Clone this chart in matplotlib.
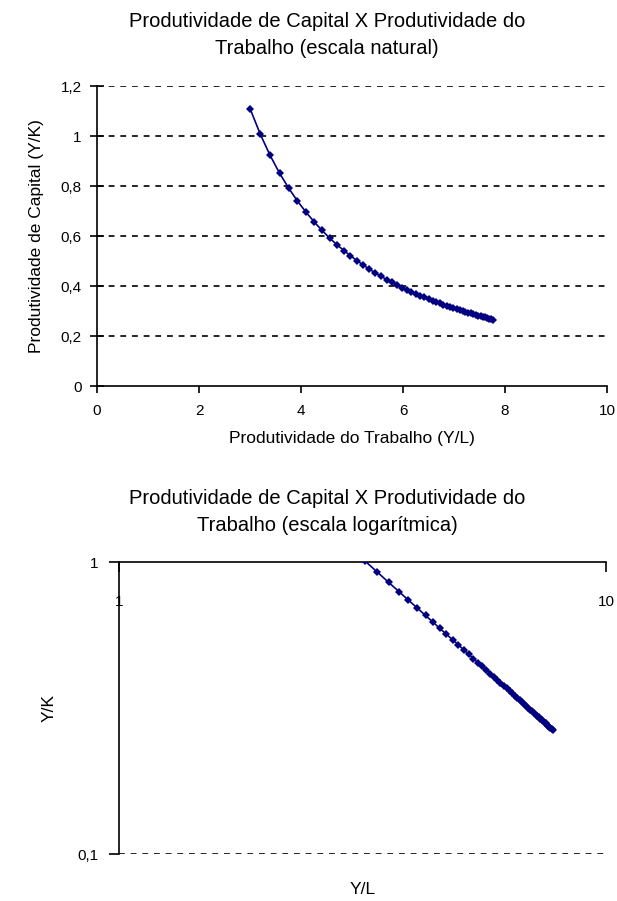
import matplotlib
matplotlib.use("Agg")
import matplotlib.pyplot as plt
from matplotlib.ticker import FixedLocator, FixedFormatter, NullLocator

plt.rcParams['font.family'] = ['Liberation Sans', 'DejaVu Sans']

# Data
y_por_l = [3.00, 3.20, 3.39, 3.58, 3.76, 3.93, 4.10, 4.26, 4.41, 4.56, 4.70, 4.84,
           4.97, 5.10, 5.22, 5.34, 5.46, 5.57, 5.68, 5.78, 5.88, 5.98, 6.07, 6.16,
           6.25, 6.34, 6.42, 6.50, 6.58, 6.65, 6.72, 6.79, 6.86, 6.93, 6.99, 7.05,
           7.11, 7.17, 7.22, 7.28, 7.33, 7.38, 7.43, 7.48, 7.52, 7.57, 7.61, 7.65,
           7.69, 7.73, 7.77]
y_por_k = [1.110, 1.008, 0.924, 0.851, 0.791, 0.740, 0.695, 0.656, 0.623, 0.592,
           0.566, 0.542, 0.521, 0.501, 0.484, 0.467, 0.452, 0.439, 0.426, 0.415,
           0.404, 0.394, 0.386, 0.377, 0.369, 0.361, 0.355, 0.348, 0.342, 0.336,
           0.331, 0.326, 0.321, 0.316, 0.312, 0.308, 0.304, 0.300, 0.297, 0.294,
           0.291, 0.288, 0.285, 0.282, 0.280, 0.277, 0.275, 0.273, 0.270, 0.268,
           0.266]

top_yticks = [0, 0.2, 0.4, 0.6, 0.8, 1.0, 1.2]
top_ylabels = ["0", "0,2", "0,4", "0,6", "0,8", "1", "1,2"]
top_xticks = [0, 2, 4, 6, 8, 10]
top_xlabels = ["0", "2", "4", "6", "8", "10"]

log_yticks = [0.1, 1]
log_ylabels = ["0,1", "1"]
log_xticks = [1, 10]
log_xlabels = ["1", "10"]

titulo1 = "Produtividade de Capital X Produtividade do\nTrabalho (escala natural)"
titulo2 = "Produtividade de Capital X Produtividade do\nTrabalho (escala logarítmica)"

W, H = 617, 901
fig = plt.figure(figsize=(W / 100, H / 100), dpi=100)
navy = "#000080"
fs = 11
fs_lab = 12.5
fs_title = 14.5

def rect(x0, x1, ytop, ybot):
    return [x0 / W, 1 - ybot / H, (x1 - x0) / W, (ybot - ytop) / H]

# ---- Top chart (natural scale)
ax1 = fig.add_axes(rect(97, 607, 86, 386))
ax1.plot(y_por_l, y_por_k, color=navy, lw=1.2, marker="D", ms=4.5,
         markeredgewidth=0, zorder=3)
ax1.set_xlim(0, 10)
ax1.set_ylim(0, 1.2)
for v in top_yticks[1:]:
    ax1.axhline(v, color="black", lw=1.2, ls=(0, (3.5, 3.5)), zorder=1)
ax1.yaxis.set_major_locator(FixedLocator(top_yticks))
ax1.yaxis.set_major_formatter(FixedFormatter(top_ylabels))
ax1.xaxis.set_major_locator(FixedLocator(top_xticks))
ax1.xaxis.set_major_formatter(FixedFormatter(top_xlabels))
ax1.tick_params(axis="y", direction="inout", length=10, width=1.2, labelsize=fs, pad=6)
ax1.tick_params(axis="x", direction="out", length=5, width=1.2, labelsize=fs, pad=8)
for s in ["top", "right"]:
    ax1.spines[s].set_visible(False)
for s in ["left", "bottom"]:
    ax1.spines[s].set_linewidth(1.2)
ax1.set_xlabel("Produtividade do Trabalho (Y/L)", fontsize=fs_lab, labelpad=9)
ax1.set_ylabel("Produtividade de Capital (Y/K)", fontsize=fs_lab, labelpad=12)
fig.text(327 / W, 1 - 35 / H, titulo1, ha="center", va="center", fontsize=fs_title,
         linespacing=1.55)

# ---- Bottom chart (log scale)
ax2 = fig.add_axes(rect(119, 606, 562, 854))
ax2.set_xscale("log")
ax2.set_yscale("log")
ax2.plot(y_por_l, y_por_k, color=navy, lw=1.2, marker="D", ms=4.5,
         markeredgewidth=0, zorder=3, clip_on=True)
ax2.set_xlim(1, 10)
ax2.set_ylim(0.1, 1)
ax2.axhline(0.1, color="black", lw=1.2, ls=(0, (3.5, 3.5)), zorder=1)
ax2.yaxis.set_major_locator(FixedLocator(log_yticks))
ax2.yaxis.set_major_formatter(FixedFormatter(log_ylabels))
ax2.yaxis.set_minor_locator(NullLocator())
ax2.xaxis.set_major_locator(FixedLocator(log_xticks))
ax2.xaxis.set_major_formatter(FixedFormatter(log_xlabels))
ax2.xaxis.set_minor_locator(NullLocator())
ax2.tick_params(axis="y", direction="out", length=7, width=1.2, labelsize=fs, pad=8)
ax2.tick_params(axis="x", which="major", top=True, bottom=False, labeltop=True,
                labelbottom=False, direction="in", length=7, width=1.2,
                labelsize=fs, pad=-34)
for s in ["bottom", "right"]:
    ax2.spines[s].set_visible(False)
for s in ["left", "top"]:
    ax2.spines[s].set_linewidth(1.2)
ax2.set_xlabel("Y/L", fontsize=fs_lab, labelpad=20)
ax2.set_ylabel("Y/K", fontsize=fs_lab, labelpad=15)
fig.text(327 / W, 1 - 512 / H, titulo2, ha="center", va="center", fontsize=fs_title,
         linespacing=1.55)

fig.savefig("out.png", dpi=100)
